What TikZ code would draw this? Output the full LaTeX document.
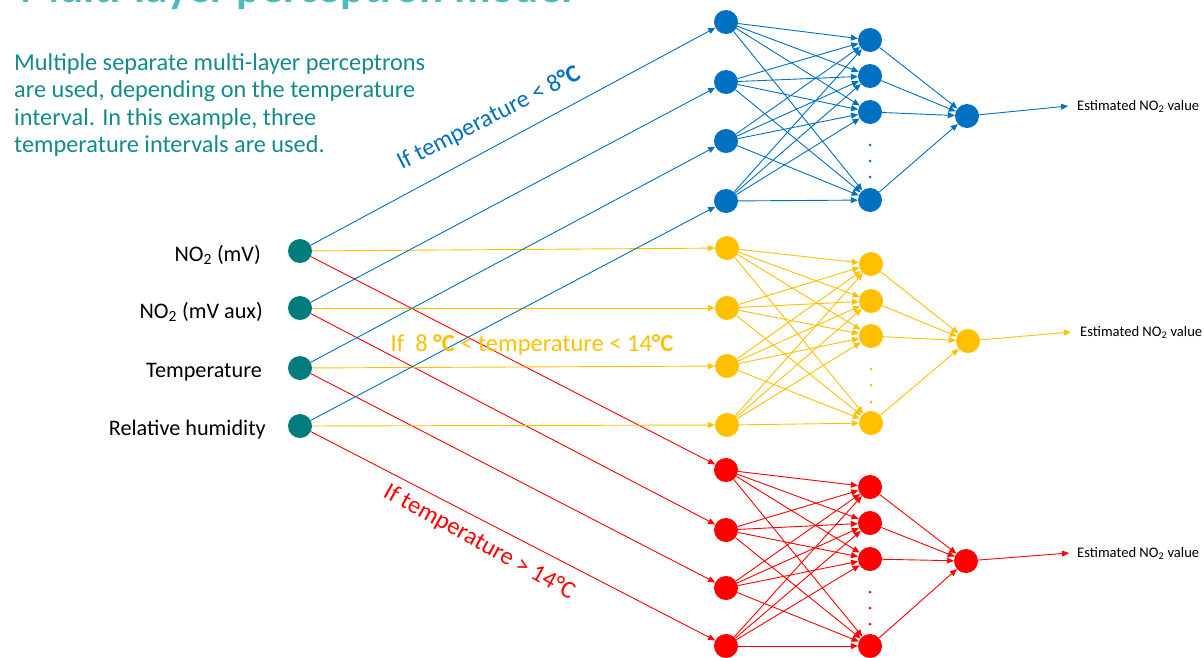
\documentclass[tikz,border=0pt]{standalone}
\usepackage{fontspec}
\setmainfont{Carlito}
\usetikzlibrary{arrows.meta}
\definecolor{nblue}{HTML}{0070C0}
\definecolor{nyel}{HTML}{FFC000}
\definecolor{nred}{HTML}{FF0000}
\definecolor{nteal}{HTML}{007C7C}
\definecolor{txteal}{HTML}{138A8C}
\definecolor{ttlteal}{HTML}{4DBABA}
\tikzset{
  neuron/.style={circle, fill=#1, draw=none, minimum size=24pt, inner sep=0pt},
  conn/.style={draw=#1, line width=0.9pt, -{Triangle[length=7pt,width=6pt]}},
  ndot/.style={circle, fill=#1, minimum size=3pt, inner sep=0pt},
  para/.style={anchor=base west, inner sep=0pt, text=txteal, font=\fontsize{24.3}{29}\selectfont},
  inlabel/.style={anchor=base east, inner sep=0pt, font=\fontsize{22.2}{26}\selectfont},
  estlabel/.style={anchor=base west, inner sep=0pt, font=\fontsize{14.6}{17}\selectfont},
  cond/.style={anchor=base, inner sep=0pt, font=\fontsize{24.5}{29}\selectfont}
}
\begin{document}
\begin{tikzpicture}[x=1pt,y=-1pt]
\useasboundingbox (0,0) rectangle (1204,657);
% title (cut off at top)
\node[anchor=base west, inner sep=0pt, text=ttlteal, font=\fontsize{45}{52}\selectfont\bfseries] (title) at (20,2) {Multi-layer perceptron model};
% paragraph
\node[para] (p1) at (14,70) {Multiple separate multi-layer perceptrons};
\node[para] (p2) at (14,97.5) {are used, depending on the temperature};
\node[para] (p3) at (14,125) {interval. In this example, three};
\node[para] (p4) at (14,152.5) {temperature intervals are used.};
% inputs
\node[neuron=nteal] (in1) at (300,251) {};
\node[neuron=nteal] (in2) at (300,308) {};
\node[neuron=nteal] (in3) at (300,368) {};
\node[neuron=nteal] (in4) at (300,426) {};
\node[inlabel] (t1) at (261,261) {NO\textsubscript{2} (mV)};
\node[inlabel] (t2) at (263,318) {NO\textsubscript{2} (mV aux)};
\node[inlabel] (t3) at (262,377) {Temperature};
\node[inlabel] (t4) at (266,435) {Relative humidity};
% networks
\foreach \g/\c/\xa/\xb/\xo/\yA/\yB/\yC/\yD/\zA/\zB/\zC/\zD/\yo/\ex/\ey/\lx/\ly/\da/\db/\dc in {
  b/nblue/726/870/967/22/82/141/201/40/76/112/200/116/1068/106/1077/110/145/161/177,
  y/nyel/727/871/968/248/308/366/425/264/301/336/423/341/1071/332/1080/336/369/385/402,
  r/nred/726/870/966/470/530/588/646/487/523/559/646/561/1069/553/1077/557/592/608/624}{
  \node[neuron=\c] (\g1a) at (\xa,\yA) {};
  \node[neuron=\c] (\g1b) at (\xa,\yB) {};
  \node[neuron=\c] (\g1c) at (\xa,\yC) {};
  \node[neuron=\c] (\g1d) at (\xa,\yD) {};
  \node[neuron=\c] (\g2a) at (\xb,\zA) {};
  \node[neuron=\c] (\g2b) at (\xb,\zB) {};
  \node[neuron=\c] (\g2c) at (\xb,\zC) {};
  \node[neuron=\c] (\g2d) at (\xb,\zD) {};
  \node[neuron=\c] (\g o) at (\xo,\yo) {};
  \node[ndot=\c] (\g d1) at (\xb,\da) {};
  \node[ndot=\c] (\g d2) at (\xb,\db) {};
  \node[ndot=\c] (\g d3) at (\xb,\dc) {};
  \coordinate (\g e) at (\ex,\ey);
  \node[estlabel] (\g lab) at (\lx,\ly) {Estimated NO\textsubscript{2} value};
  \draw[conn=\c] (\g o) -- (\g e);
  \foreach \i in {a,b,c,d}{
    \foreach \j in {a,b,c,d}{
      \draw[conn=\c] (\g1\i) -- (\g2\j);
    }
    \draw[conn=\c] (\g2\i) -- (\g o);
  }
}
% input connectors
\foreach \k/\i in {1/a,2/b,3/c,4/d}{
  \draw[conn=nblue] (in\k) -- (b1\i);
  \draw[conn=nyel] (in\k) -- (y1\i);
  \draw[conn=nred] (in\k) -- (r1\i);
}
% condition labels
\node[cond, rotate=27, text=nblue] (cb) at (492,124) {If temperature < 8\textbf{°C}};
\node[cond, text=nyel] (cy) at (532,351) {If\ \ 8 \textbf{°C} < temperature < 14\textbf{°C}};
\node[cond, rotate=-29, text=nred] (cr) at (476,548) {If temperature > 14°C};
\end{tikzpicture}
\end{document}
